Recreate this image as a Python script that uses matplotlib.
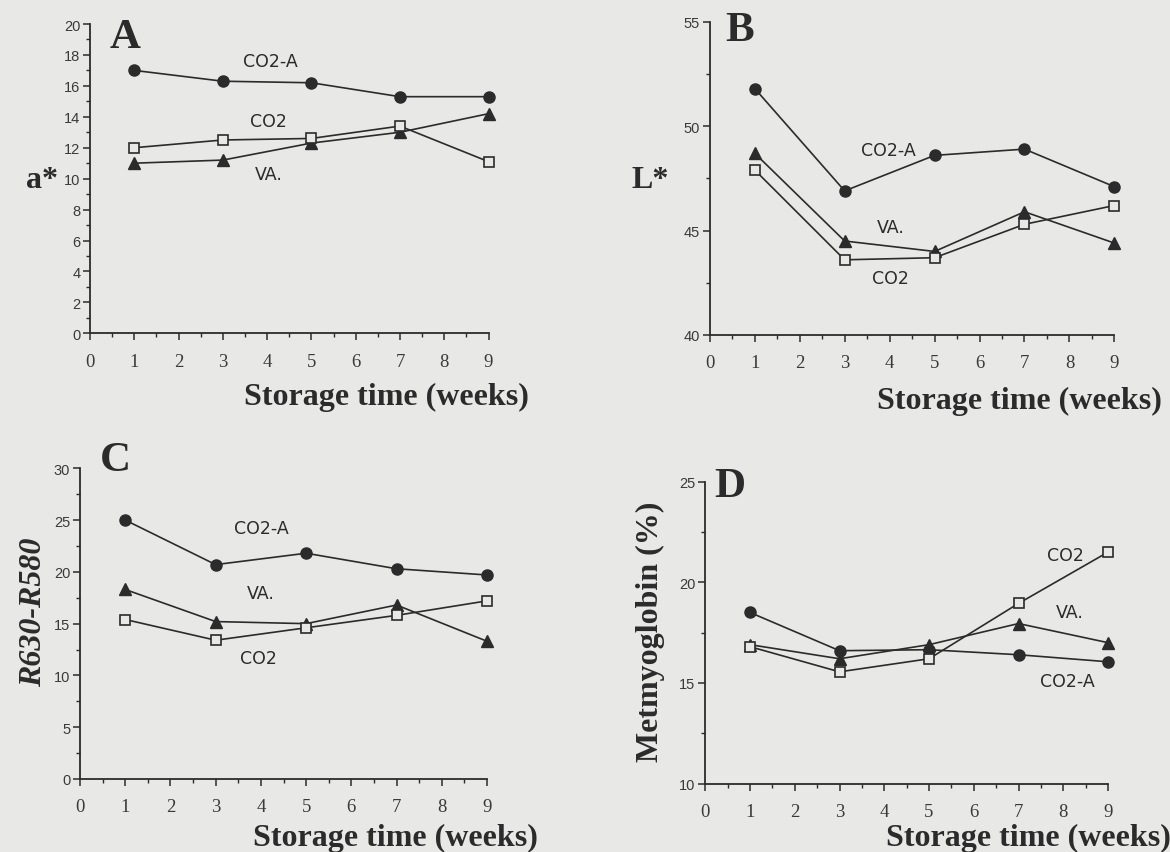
import matplotlib
matplotlib.use("Agg")
import matplotlib.pyplot as plt
from matplotlib.ticker import MultipleLocator

weeks = [1, 3, 5, 7, 9]

# Panel A: a*
a_co2a = [17.0, 16.3, 16.2, 15.3, 15.3]
a_co2 = [12.0, 12.5, 12.6, 13.4, 11.1]
a_va = [11.0, 11.2, 12.3, 13.0, 14.2]

# Panel B: L*
b_co2a = [51.8, 46.9, 48.6, 48.9, 47.1]
b_co2 = [47.9, 43.6, 43.7, 45.3, 46.2]
b_va = [48.7, 44.5, 44.0, 45.9, 44.4]

# Panel C: R630-R580
c_co2a = [25.0, 20.7, 21.8, 20.3, 19.7]
c_co2 = [15.4, 13.4, 14.6, 15.8, 17.2]
c_va = [18.3, 15.2, 15.0, 16.8, 13.3]

# Panel D: Metmyoglobin (%)
d_co2a = [18.5, 16.6, 16.65, 16.4, 16.05]
d_co2 = [16.8, 15.55, 16.2, 18.95, 21.5]
d_va = [16.9, 16.2, 16.9, 17.95, 17.0]

xticks = [0, 1, 2, 3, 4, 5, 6, 7, 8, 9]
xlabel = "Storage time (weeks)"

BG = "#e8e8e6"
INK = "#2b2b2b"
W, H = 1170, 853


def rect(x0, x1, ytop, ybot):
    return [x0 / W, 1 - ybot / H, (x1 - x0) / W, (ybot - ytop) / H]


panels = [
    dict(rect=rect(90, 488.5, 25, 334.3), ylim=(0, 20), major=2, minor=1,
         data=(a_co2a, a_co2, a_va), letter="A", ylab="a*",
         labels=[("CO2-A", 4.08, 17.63), ("CO2", 4.04, 13.75), ("VA.", 4.04, 10.3)]),
    dict(rect=rect(709.8, 1114.4, 22.7, 336), ylim=(40, 55), major=5, minor=2.5,
         data=(b_co2a, b_co2, b_va), letter="B", ylab="L*",
         labels=[("CO2-A", 3.98, 48.87), ("VA.", 4.02, 45.15), ("CO2", 4.02, 42.73)]),
    dict(rect=rect(80, 487, 469.3, 780), ylim=(0, 30), major=5, minor=2.5,
         data=(c_co2a, c_co2, c_va), letter="C", ylab="R630-R580",
         labels=[("CO2-A", 4.0, 24.2), ("VA.", 4.0, 18.0), ("CO2", 3.95, 11.65)]),
    dict(rect=rect(705.3, 1108, 482.7, 784.5), ylim=(10, 25), major=5, minor=2.5,
         data=(d_co2a, d_co2, d_va), letter="D", ylab="Metmyoglobin (%)",
         labels=[("CO2", 8.05, 21.35), ("VA.", 8.15, 18.5), ("CO2-A", 8.1, 15.07)]),
]

fig = plt.figure(figsize=(W / 100, H / 100), dpi=100, facecolor=BG)

for p in panels:
    ax = fig.add_axes(p["rect"])
    ax.set_facecolor("none")
    co2a, co2, va = p["data"]
    lw = 1.2
    ax.plot(weeks, co2a, color=INK, lw=lw, marker="o", ms=8,
            mfc=INK, mec=INK, zorder=3, clip_on=False)
    ax.plot(weeks, va, color=INK, lw=lw, marker="^", ms=8,
            mfc=INK, mec=INK, zorder=3, clip_on=False)
    ax.plot(weeks, co2, color=INK, lw=lw, marker="s", ms=7.5,
            mfc=BG, mec=INK, mew=1.2, zorder=4, clip_on=False)
    ax.set_xlim(0, 9)
    ax.set_ylim(*p["ylim"])
    ax.set_xticks(xticks)
    ax.xaxis.set_minor_locator(MultipleLocator(0.5))
    ax.yaxis.set_major_locator(MultipleLocator(p["major"]))
    ax.yaxis.set_minor_locator(MultipleLocator(p["minor"]))
    for s in ["top", "right"]:
        ax.spines[s].set_visible(False)
    for s in ["left", "bottom"]:
        ax.spines[s].set_color(INK)
        ax.spines[s].set_linewidth(1.3)
    ax.tick_params(axis="both", which="major", direction="out", length=5,
                   width=1.1, color=INK)
    ax.tick_params(axis="both", which="minor", direction="out", length=3,
                   width=1.0, color=INK)
    ax.tick_params(axis="y", which="major", labelsize=10.5, labelcolor="#3a3a3a", pad=2)
    ax.tick_params(axis="x", which="major", labelsize=13.5, labelcolor="#3a3a3a", pad=9)
    for t in ax.get_yticklabels():
        t.set_fontfamily("Liberation Sans")
    for t in ax.get_xticklabels():
        t.set_fontfamily("Liberation Serif")
    for txt, x, y in p["labels"]:
        ax.text(x, y, txt, fontsize=12.5, family="DejaVu Sans",
                color="#2b2b2b", ha="center", va="center")

# panel letters
letter_pos = {"A": (125, 38), "B": (740, 31), "C": (115, 461), "D": (730, 487)}
for p in panels:
    x, y = letter_pos[p["letter"]]
    fig.text(x / W, 1 - y / H, p["letter"], fontsize=31, fontweight="bold",
             family="Liberation Serif", color="#2b2b2b", ha="center", va="center")

# x labels
xl_pos = [(386, 397), (1019, 401), (395, 838), (1028, 838)]
for (x, y) in xl_pos:
    fig.text(x / W, 1 - y / H, xlabel, fontsize=23, fontweight="bold",
             family="Liberation Serif", color="#2b2b2b", ha="center", va="center")

# y labels
fig.text(42 / W, 1 - 180 / H, "a*", fontsize=23, fontweight="bold",
         family="Liberation Serif", color="#2b2b2b", ha="center", va="center")
fig.text(650 / W, 1 - 180 / H, "L*", fontsize=23, fontweight="bold",
         family="Liberation Serif", color="#2b2b2b", ha="center", va="center")
fig.text(34 / W, 1 - 612 / H, "R630-R580", fontsize=23, fontweight="bold",
         style="italic", family="Liberation Serif", color="#2b2b2b",
         ha="center", va="center", rotation=90)
fig.text(650 / W, 1 - 632 / H, "Metmyoglobin (%)", fontsize=23,
         fontweight="bold", family="Liberation Serif", color="#2b2b2b",
         ha="center", va="center", rotation=90)

fig.savefig("out.png", dpi=100, facecolor=BG)
